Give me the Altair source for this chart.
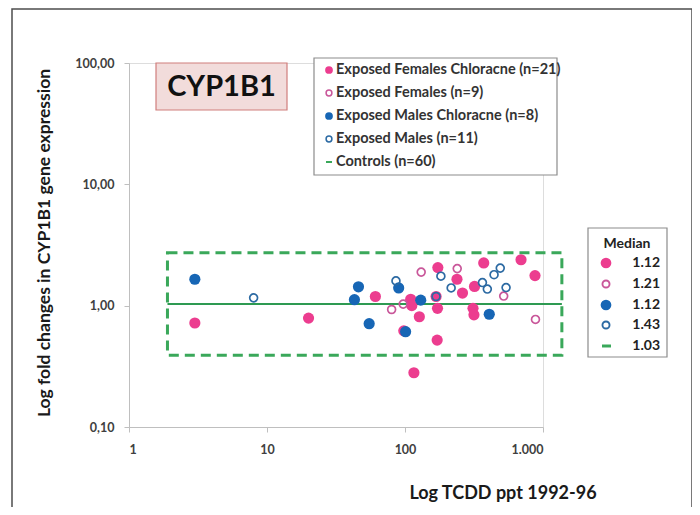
import altair as alt
import pandas as pd

# ---------------- data ----------------
pink_filled_x = [3.0, 20, 61, 98, 110, 112, 116, 127, 168, 173, 172, 171, 238, 261, 319, 311, 316, 372, 693, 875]
pink_filled_y = [0.72, 0.79, 1.19, 0.62, 1.13, 1.00, 0.28, 0.81, 1.19, 2.06, 0.95, 0.52, 1.65, 1.27, 1.44, 0.95, 0.84, 2.25, 2.39, 1.77]
pink_open_x = [80, 97, 131, 239, 519, 882]
pink_open_y = [0.93, 1.03, 1.89, 2.02, 1.20, 0.77]
blue_filled_x = [3.0, 46, 43, 55, 90, 101, 130, 408]
blue_filled_y = [1.65, 1.43, 1.12, 0.71, 1.40, 0.61, 1.11, 0.85]
blue_open_x = [8.0, 86, 182, 216, 364, 395, 442, 490, 540, 168]
blue_open_y = [1.16, 1.60, 1.75, 1.40, 1.55, 1.37, 1.80, 2.04, 1.41, 1.19]

control_median = 1.03
control_x_range = [1.9, 1370]
control_y_range = [0.39, 2.73]

legend_labels = [
    "Exposed Females Chloracne (n=21)",
    "Exposed Females (n=9)",
    "Exposed Males Chloracne (n=8)",
    "Exposed Males (n=11)",
    "Controls (n=60)",
]
median_values = ["1.12", "1.21", "1.12", "1.43", "1.03"]

x_ticks = [1, 10, 100, 1000]
y_ticks = [0.1, 1, 10, 100]

# ---------------- styling ----------------
PINK = "#ec3d8f"
PINK_OPEN = "#c9579a"
BLUE = "#1766b5"
BLUE_OPEN = "#2c6aa3"
GREEN = "#3aa85a"
GREEN_LINE = "#2e9a52"
FONT = "Lato"

W, H = 414, 364
X0, Y0 = 129, 63  # page position of plot origin


def px(v):
    return v - X0


def py(v):
    return v - Y0


xs = alt.Scale(type="log", domain=[1, 1000])
ys = alt.Scale(type="log", domain=[0.1, 100])
x_axis = alt.Axis(
    values=x_ticks, title=None, grid=False,
    labelExpr="datum.value >= 1000 ? '1.000' : format(datum.value, 'd')",
    domainColor="#bfbfbf", tickColor="#bfbfbf", tickSize=5, labelPadding=11,
    labelFont=FONT, labelFontSize=12.5, labelFontWeight="bold", labelColor="#404040",
)
y_axis = alt.Axis(
    values=y_ticks, title=None, grid=False,
    labelExpr="replace(format(datum.value, '.2f'), '.', ',')",
    domainColor="#bfbfbf", tickColor="#bfbfbf", tickSize=5, labelPadding=10,
    labelFont=FONT, labelFontSize=12.5, labelFontWeight="bold", labelColor="#404040",
)

one = alt.Data(values=[{}])


def pts(xv, yv, **mk):
    df = pd.DataFrame({"x": xv, "y": yv})
    return alt.Chart(df).mark_point(**mk).encode(
        x=alt.X("x:Q", scale=xs, axis=x_axis),
        y=alt.Y("y:Q", scale=ys, axis=y_axis),
    )


def box(x1, x2, y1, y2, **mk):
    return alt.Chart(one).mark_rect(**mk).encode(
        x=alt.value(px(x1)), x2=alt.value(px(x2)),
        y=alt.value(py(y1)), y2=alt.value(py(y2)),
    )


def label(text, x, y, **mk):
    return alt.Chart(one).mark_text(font=FONT, **mk).encode(
        x=alt.value(px(x)), y=alt.value(py(y)), text=alt.value(text)
    )


def marker(x, y, **mk):
    return alt.Chart(one).mark_point(**mk).encode(x=alt.value(px(x)), y=alt.value(py(y)))


def dash(x1, x2, y, color, width):
    return alt.Chart(one).mark_rule(color=color, strokeWidth=width).encode(
        x=alt.value(px(x1)), x2=alt.value(px(x2)), y=alt.value(py(y))
    )


layers = []
# outer frame
layers.append(box(12, 692, 9, 530, fill=None, filled=False, stroke="#4d4d4d", strokeWidth=1.5))

# control range box and median line
ctrl = pd.DataFrame({"x": [control_x_range[0]], "x2": [control_x_range[1]],
                     "y": [control_y_range[0]], "y2": [control_y_range[1]],
                     "m": [control_median]})
layers.append(
    alt.Chart(ctrl).mark_rect(filled=False, stroke=GREEN, strokeWidth=3, strokeDash=[10, 6]).encode(
        x=alt.X("x:Q", scale=xs, axis=x_axis), x2="x2:Q",
        y=alt.Y("y:Q", scale=ys, axis=y_axis), y2="y2:Q",
    )
)
layers.append(
    alt.Chart(ctrl).mark_rule(color=GREEN_LINE, strokeWidth=2).encode(
        x=alt.X("x:Q", scale=xs, axis=x_axis), x2="x2:Q",
        y=alt.Y("m:Q", scale=ys, axis=y_axis),
    )
)

# points
layers.append(pts(pink_filled_x, pink_filled_y, shape="circle", filled=True, color=PINK, size=125, opacity=1))
layers.append(pts(pink_open_x, pink_open_y, shape="circle", filled=False, color=PINK_OPEN, size=62, strokeWidth=1.7, opacity=1))
layers.append(pts(blue_filled_x, blue_filled_y, shape="circle", filled=True, color=BLUE, size=125, opacity=1))
layers.append(pts(blue_open_x, blue_open_y, shape="circle", filled=False, color=BLUE_OPEN, size=62, strokeWidth=1.7, opacity=1))

# CYP1B1 label box
layers.append(box(156, 287, 63, 110, fill="#f2dcdb", stroke="#d07e7c", strokeWidth=1.2))
layers.append(label("CYP1B1", 221.5, 87, fontSize=29, fontWeight="bold", color="#111111",
                    align="center", baseline="middle"))

# main legend
layers.append(box(314, 557, 58, 175, fill="#ffffff", stroke="#8c8c8c", strokeWidth=1.2))
rows = [70, 93, 116, 139, 162]
styles = [
    dict(filled=True, color=PINK, size=60),
    dict(filled=False, color=PINK_OPEN, size=34, strokeWidth=1.5),
    dict(filled=True, color=BLUE, size=60),
    dict(filled=False, color=BLUE_OPEN, size=34, strokeWidth=1.5),
]
for i, (lab, ry) in enumerate(zip(legend_labels, rows)):
    if i < 4:
        layers.append(marker(329, ry, shape="circle", opacity=1, **styles[i]))
    else:
        layers.append(dash(326, 332, ry, GREEN, 2))
    layers.append(label(lab, 336, ry, fontSize=14.5, fontWeight="bold", color="#333333",
                        align="left", baseline="middle"))

# median legend
layers.append(box(588, 667, 228, 357, fill="#ffffff", stroke="#8c8c8c", strokeWidth=1.2))
layers.append(label("Median", 627, 244, fontSize=14, fontWeight="bold", color="#222222",
                    align="center", baseline="middle"))
mrows = [263, 284, 305, 325, 346]
mstyles = [
    dict(filled=True, color=PINK, size=115),
    dict(filled=False, color=PINK_OPEN, size=50, strokeWidth=1.9),
    dict(filled=True, color=BLUE, size=115),
    dict(filled=False, color=BLUE_OPEN, size=50, strokeWidth=1.9),
]
for i, (val, ry) in enumerate(zip(median_values, mrows)):
    if i < 4:
        layers.append(marker(606, ry, shape="circle", opacity=1, **mstyles[i]))
    else:
        layers.append(dash(602, 611, ry, GREEN, 3))
    layers.append(label(val, 660, ry, fontSize=14, fontWeight="bold", color="#222222",
                        align="right", baseline="middle"))

# axis titles
layers.append(label("Log fold changes in CYP1B1 gene expression", 45, 243, angle=270,
                    fontSize=17.5, fontWeight="bold", color="#1a1a1a",
                    align="center", baseline="middle"))
layers.append(label("Log TCDD ppt 1992-96", 503, 494, fontSize=18, fontWeight="bold",
                    color="#1a1a1a", align="center", baseline="middle"))

chart = alt.layer(*layers).properties(
    width=W, height=H,
    autosize=alt.AutoSizeParams(type="none"),
    padding={"left": 121, "top": 55, "right": 149, "bottom": 80},
).configure_view(stroke=None).configure(background="white")

chart.save("out.html", embed_options={"renderer": "svg", "actions": False})
